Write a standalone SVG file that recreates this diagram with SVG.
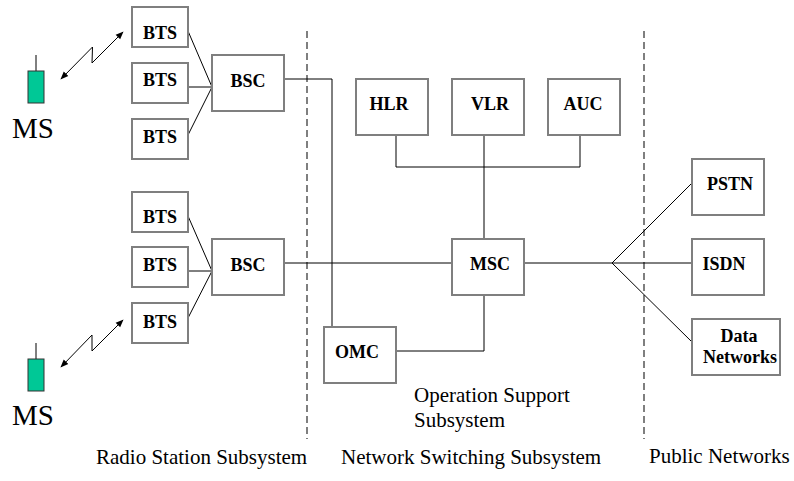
<svg xmlns="http://www.w3.org/2000/svg" width="794" height="481" viewBox="0 0 794 481">
<defs>
<marker id="ah" viewBox="0 0 10 10" refX="9" refY="5" markerWidth="8" markerHeight="8" markerUnits="userSpaceOnUse" orient="auto-start-reverse">
<path d="M0,1 L10,5 L0,9 Z" fill="#000"/>
</marker>
<style>
.box{fill:#fff;stroke:#7f7f7f;stroke-width:2}
.lbl{font-family:"Liberation Serif","Times New Roman",serif;font-weight:bold;font-size:18px;fill:#000;text-anchor:middle}
.cap{font-family:"Liberation Serif","Times New Roman",serif;font-size:21px;fill:#000}
.ms{font-family:"Liberation Serif","Times New Roman",serif;font-size:29px;fill:#000}
.ln{fill:none;stroke:#000;stroke-width:1}
.dash{fill:none;stroke:#7f7f7f;stroke-width:2;stroke-dasharray:7,4}
.phone{fill:#00c896;stroke:#333;stroke-width:1}
</style>
</defs>
<rect width="794" height="481" fill="#fff"/>

<g id="dividers">
<line class="dash" x1="307" y1="31" x2="307" y2="439"/>
<line class="dash" x1="644" y1="31" x2="644" y2="439"/>
</g>

<g id="connectors">
<path class="ln" d="M188,31 L212,87 M188,87 L212,87 M188,135 L212,87"/>
<path class="ln" d="M188,216 L212,271 M188,271 L212,271 M188,318 L212,271"/>
<path class="ln" d="M284,79 L332,79 L332,327"/>
<path class="ln" d="M284,263 L452,263"/>
<path class="ln" d="M396,135 L396,167 L580,167 L580,135 M484,135 L484,239"/>
<path class="ln" d="M396,351 L484,351 L484,295"/>
<path class="ln" d="M524,263 L612,263 L692,183 M612,263 L692,263 M612,263 L692,342"/>
<path class="ln" d="M36,55 L36,71 M36,343 L36,359"/>
<path class="ln" d="M61,79 L92.5,47 L92,63 L123,32" marker-start="url(#ah)" marker-end="url(#ah)"/>
<path class="ln" d="M61,367 L92,335 L92,351 L123,320" marker-start="url(#ah)" marker-end="url(#ah)"/>
</g>

<g id="ms1">
<rect class="phone" x="28" y="71" width="16" height="32"/>
<text class="ms" x="12" y="138">MS</text>
</g>
<g id="ms2">
<rect class="phone" x="28" y="359" width="16" height="32"/>
<text class="ms" x="12" y="425">MS</text>
</g>

<g id="bts1"><rect class="box" x="132" y="7" width="56" height="40"/><text class="lbl" x="160" y="39">BTS</text></g>
<g id="bts2"><rect class="box" x="132" y="63" width="56" height="40"/><text class="lbl" x="160" y="86">BTS</text></g>
<g id="bts3"><rect class="box" x="132" y="119" width="56" height="40"/><text class="lbl" x="160" y="143">BTS</text></g>
<g id="bts4"><rect class="box" x="132" y="192" width="56" height="40"/><text class="lbl" x="160" y="223">BTS</text></g>
<g id="bts5"><rect class="box" x="132" y="247" width="56" height="40"/><text class="lbl" x="160" y="271">BTS</text></g>
<g id="bts6"><rect class="box" x="132" y="303" width="56" height="40"/><text class="lbl" x="160" y="328">BTS</text></g>

<g id="bsc1"><rect class="box" x="212" y="55" width="72" height="56"/><text class="lbl" x="248" y="87">BSC</text></g>
<g id="bsc2"><rect class="box" x="212" y="239" width="72" height="56"/><text class="lbl" x="248" y="271">BSC</text></g>

<g id="hlr"><rect class="box" x="356" y="79" width="72" height="56"/><text class="lbl" x="389" y="110">HLR</text></g>
<g id="vlr"><rect class="box" x="452" y="79" width="72" height="56"/><text class="lbl" x="490" y="110">VLR</text></g>
<g id="auc"><rect class="box" x="548" y="79" width="72" height="56"/><text class="lbl" x="583" y="110">AUC</text></g>
<g id="msc"><rect class="box" x="452" y="239" width="72" height="56"/><text class="lbl" x="490" y="270">MSC</text></g>
<g id="omc"><rect class="box" x="324" y="327" width="72" height="56"/><text class="lbl" x="357" y="358">OMC</text></g>

<g id="pstn"><rect class="box" x="692" y="159" width="72" height="56"/><text class="lbl" x="730" y="190">PSTN</text></g>
<g id="isdn"><rect class="box" x="692" y="239" width="72" height="56"/><text class="lbl" x="724" y="270">ISDN</text></g>
<g id="data"><rect class="box" x="692" y="319" width="88" height="56"/><text class="lbl" x="739" y="342">Data</text><text class="lbl" x="740" y="363">Networks</text></g>

<g id="captions">
<text class="cap" x="414" y="402">Operation Support</text>
<text class="cap" x="414" y="427">Subsystem</text>
<text class="cap" x="96" y="464">Radio Station Subsystem</text>
<text class="cap" x="341" y="464">Network Switching Subsystem</text>
<text class="cap" x="649" y="463">Public Networks</text>
</g>
</svg>
